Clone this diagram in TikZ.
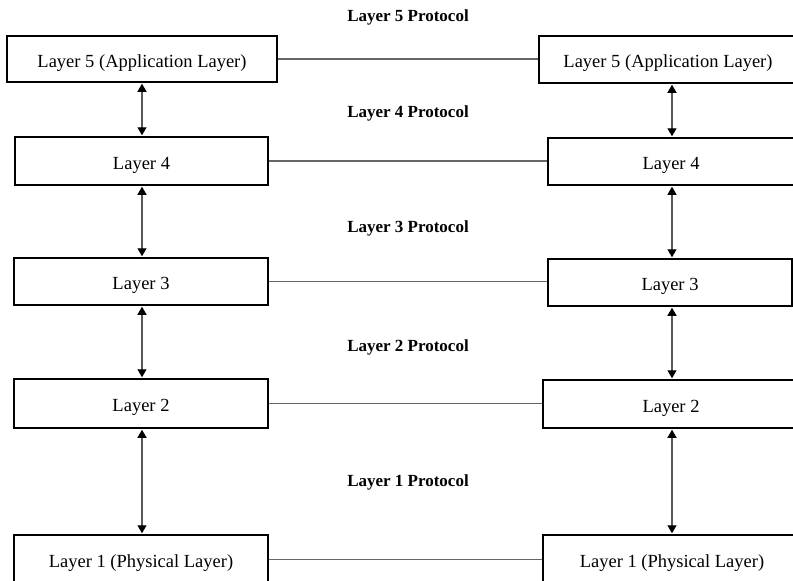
\documentclass[tikz,border=0pt]{standalone}
\usepackage{fontspec}
\setmainfont{Liberation Serif}
\usetikzlibrary{arrows.meta}
\begin{document}
\begin{tikzpicture}[x=1pt,y=-1pt,
  layerbox/.style={draw=black, line width=1.5pt, fill=white, inner sep=0pt,
    text height=18pt, text depth=2pt,
    font=\fontsize{18.5}{20}\selectfont},
  proto/.style={font=\bfseries\fontsize{17}{20}\selectfont, inner sep=0pt},
  link/.style={draw=black!60, line width=1.2pt},
  updown/.style={draw=black!65, line width=1.2pt, shorten <=1pt, shorten >=1pt,
    {Triangle[length=8pt,width=9pt,fill=black,color=black]}-{Triangle[length=8pt,width=9pt,fill=black,color=black]}}]
\useasboundingbox (0,0) rectangle (793,581);
\clip (0,0) rectangle (793,581);
\fill[white] (0,0) rectangle (793,581);
% left stack
\node[layerbox, minimum width=270pt, minimum height=46pt] (L5) at (142,59) {Layer 5 (Application Layer)};
\node[layerbox, minimum width=253pt, minimum height=48pt] (L4) at (141.5,161) {Layer 4};
\node[layerbox, minimum width=254pt, minimum height=47pt] (L3) at (141,281.5) {Layer 3};
\node[layerbox, minimum width=254pt, minimum height=49pt] (L2) at (141,403.5) {Layer 2};
\node[layerbox, minimum width=254pt, minimum height=49pt] (L1) at (141,559.5) {Layer 1 (Physical Layer)};
% right stack
\node[layerbox, minimum width=258pt, minimum height=47pt] (R5) at (668,59.5) {Layer 5 (Application Layer)};
\node[layerbox, minimum width=246pt, minimum height=47pt] (R4) at (671,161.5) {Layer 4};
\node[layerbox, minimum width=244pt, minimum height=47pt] (R3) at (670,282.5) {Layer 3};
\node[layerbox, minimum width=256pt, minimum height=48pt] (R2) at (671,404) {Layer 2};
\node[layerbox, minimum width=258pt, minimum height=49pt] (R1) at (672,559.5) {Layer 1 (Physical Layer)};
% protocol labels
\node[proto] (P5) at (408,17) {Layer 5 Protocol};
\node[proto] (P4) at (408,113) {Layer 4 Protocol};
\node[proto] (P3) at (408,228) {Layer 3 Protocol};
\node[proto] (P2) at (408,347) {Layer 2 Protocol};
\node[proto] (P1) at (408,482) {Layer 1 Protocol};
% peer links
\draw[link] (L5.east) -- (L5.east -| R5.west);
\draw[link] (L4.east) -- (L4.east -| R4.west);
\draw[link] (L3.east) -- (L3.east -| R3.west);
\draw[link] (L2.east) -- (L2.east -| R2.west);
\draw[link] (L1.east) -- (L1.east -| R1.west);
% vertical arrows
\coordinate (lx) at (142,0);
\coordinate (rx) at (672,0);
\draw[updown] (L5.south -| lx) -- (L4.north -| lx);
\draw[updown] (L4.south -| lx) -- (L3.north -| lx);
\draw[updown] (L3.south -| lx) -- (L2.north -| lx);
\draw[updown] (L2.south -| lx) -- (L1.north -| lx);
\draw[updown] (R5.south -| rx) -- (R4.north -| rx);
\draw[updown] (R4.south -| rx) -- (R3.north -| rx);
\draw[updown] (R3.south -| rx) -- (R2.north -| rx);
\draw[updown] (R2.south -| rx) -- (R1.north -| rx);
\end{tikzpicture}
\end{document}
